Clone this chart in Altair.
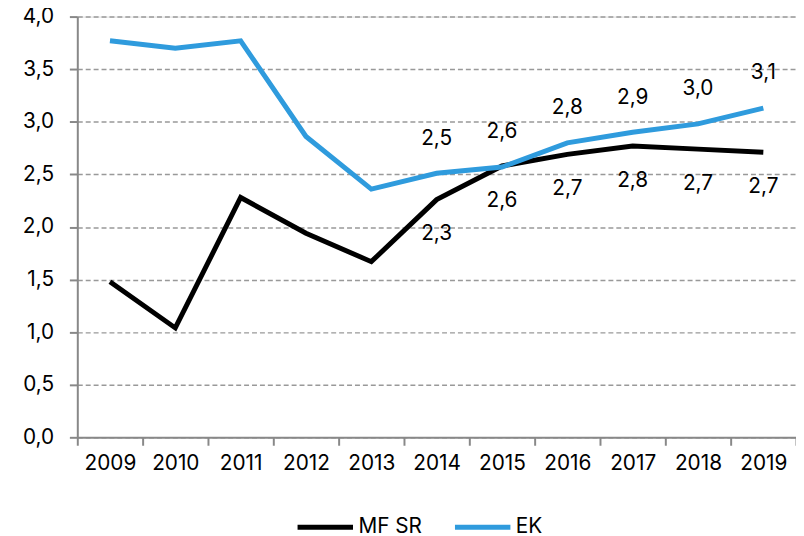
import altair as alt
import pandas as pd

years = ["2009", "2010", "2011", "2012", "2013", "2014", "2015", "2016", "2017", "2018", "2019"]
mfsr = [1.48, 1.04, 2.28, 1.94, 1.67, 2.26, 2.58, 2.69, 2.77, 2.74, 2.71]
ek = [3.77, 3.70, 3.77, 2.86, 2.36, 2.51, 2.57, 2.80, 2.90, 2.98, 3.13]
label_years = ["2014", "2015", "2016", "2017", "2018", "2019"]
series_names = ["MF SR", "EK"]
colors = ["#000000", "#2F9BDD"]

rows = []
for y, v in zip(years, mfsr):
    rows.append({"year": y, "series": "MF SR", "value": v})
for y, v in zip(years, ek):
    rows.append({"year": y, "series": "EK", "value": v})
df = pd.DataFrame(rows)
df["label"] = df["value"].map(lambda v: f"{v:.1f}".replace(".", ","))
lab = df[df["year"].isin(label_years)]

FONT = "Inter"
FS = 21

x = alt.X("year:N", sort=years, title=None,
          scale=alt.Scale(paddingInner=0, paddingOuter=0),
          axis=alt.Axis(labelAngle=0, labelFontSize=FS, labelColor="#000", labelFont=FONT,
                        domainColor="#888", domainWidth=2, tickColor="#888", tickWidth=2,
                        tickSize=8, tickBand="extent", labelPadding=8, grid=False))
y = alt.Y("value:Q", title=None,
          scale=alt.Scale(domain=[0, 4], nice=False, zero=True),
          axis=alt.Axis(values=[0, 0.5, 1, 1.5, 2, 2.5, 3, 3.5, 4],
                        labelExpr="replace(format(datum.value, '.1f'), '.', ',')",
                        labelFontSize=FS, labelColor="#000", labelFont=FONT,
                        domainColor="#888", domainWidth=2, tickColor="#888", tickWidth=2,
                        tickSize=8, labelPadding=16,
                        grid=True, gridColor="#999", gridDash=[5, 3], gridWidth=1.5))

color = alt.Color("series:N", sort=series_names,
                  scale=alt.Scale(domain=series_names, range=colors),
                  legend=alt.Legend(title=None, orient="none", direction="horizontal",
                                    legendX=220, legendY=485,
                                    symbolType="stroke", symbolSize=3136, symbolStrokeWidth=5,
                                    labelFontSize=FS, labelFont=FONT, labelColor="#000",
                                    labelOffset=3, columnPadding=22))

lines = alt.Chart(df).mark_line(strokeWidth=5, strokeCap="butt", strokeJoin="miter").encode(
    x=x, y=y, color=color, order=alt.Order("year:N"))

text_ek = alt.Chart(lab[lab["series"] == "EK"]).mark_text(
    dy=-35, fontSize=FS, font=FONT, color="#000").encode(
    x=alt.X("year:N", sort=years), y="value:Q", text="label:N")
text_mf = alt.Chart(lab[lab["series"] == "MF SR"]).mark_text(
    dy=35, fontSize=FS, font=FONT, color="#000").encode(
    x=alt.X("year:N", sort=years), y="value:Q", text="label:N")

chart = alt.layer(lines, text_ek, text_mf).properties(
    width=726, height=425,
    autosize=alt.AutoSizeParams(type="none"),
    padding={"left": 70, "top": 6, "right": 0, "bottom": 97},
).configure_view(stroke=None).configure(font=FONT)

chart.save("out.html", embed_options={"renderer": "svg", "actions": False})
